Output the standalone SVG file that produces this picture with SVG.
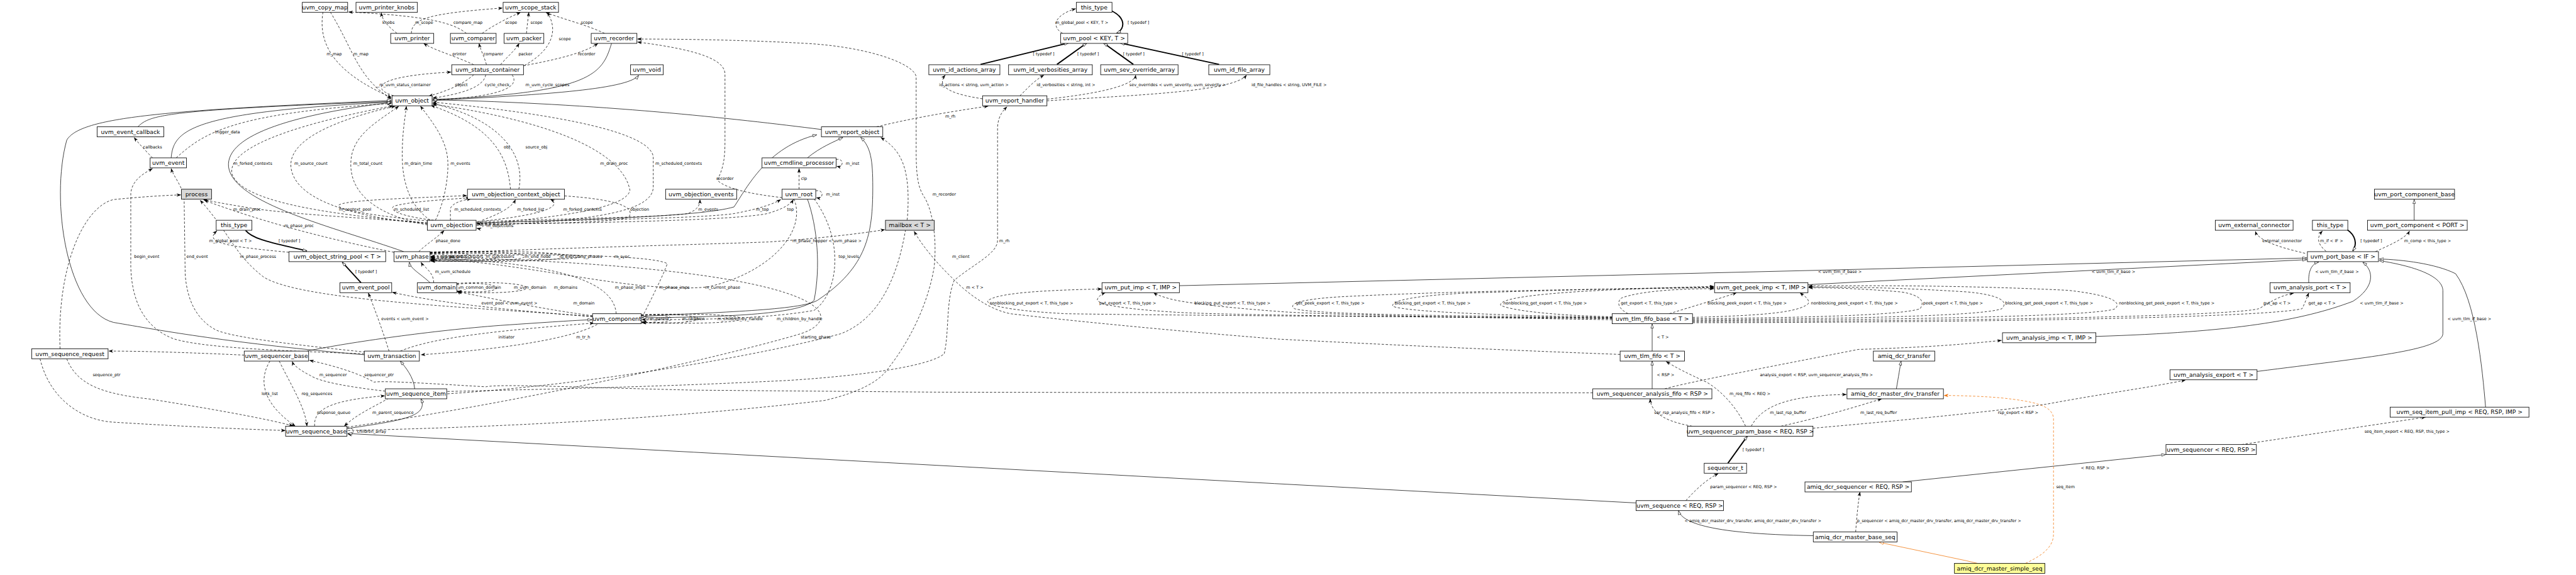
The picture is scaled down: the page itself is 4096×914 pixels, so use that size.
<svg xmlns="http://www.w3.org/2000/svg" width="4096" height="914" viewBox="0 0 4096 914">
<style>
.n rect{fill:#fff;stroke:#000;stroke-width:1.6}
.n text{font-family:"DejaVu Sans",Verdana,sans-serif;font-size:17.5px;text-anchor:middle;fill:#000}
.l text{font-family:"DejaVu Sans",Verdana,sans-serif;font-size:12.3px;fill:#000}
.e path{fill:none;stroke:#000;stroke-width:1.4}
.e .u{stroke-dasharray:7 5;marker-end:url(#av)}
.e .i{marker-end:url(#at)}
.e .t{stroke-width:3.6;marker-end:url(#at)}
.e .ou{stroke:#f07000;stroke-dasharray:7 5;marker-end:url(#aov)}
.e .oi{stroke:#f07000;marker-end:url(#aot)}
</style>
<defs>
<marker id="av" viewBox="0 0 14 10" refX="13" refY="5" markerWidth="14" markerHeight="10" orient="auto" markerUnits="userSpaceOnUse"><path d="M0,0 L14,5 L0,10 L4,5 z" fill="#000"/></marker>
<marker id="at" viewBox="0 0 14 10" refX="13" refY="5" markerWidth="14" markerHeight="10" orient="auto" markerUnits="userSpaceOnUse"><path d="M1,1 L13,5 L1,9 z" fill="#fff" stroke="#000" stroke-width="1.2"/></marker>
<marker id="aov" viewBox="0 0 14 10" refX="13" refY="5" markerWidth="14" markerHeight="10" orient="auto" markerUnits="userSpaceOnUse"><path d="M0,0 L14,5 L0,10 L4,5 z" fill="#f07000"/></marker>
<marker id="aot" viewBox="0 0 14 10" refX="13" refY="5" markerWidth="14" markerHeight="10" orient="auto" markerUnits="userSpaceOnUse"><path d="M1,1 L13,5 L1,9 z" fill="#fff" stroke="#f07000" stroke-width="1.2"/></marker>
</defs>
<rect width="4096" height="914" fill="#fff"/>
<g transform="scale(0.5305)">
<g id="edges" class="e">
<path class="u" d="M1190,100 C1165,80 1145,62 1143,38"/>
<path class="u" d="M1233,100 C1233,55 1290,40 1506,24"/>
<path class="u" d="M1398,100 C1360,70 1290,48 1045,36"/>
<path class="u" d="M1445,100 C1480,75 1520,55 1560,37"/>
<path class="u" d="M1578,100 C1580,75 1583,55 1585,37"/>
<path class="u" d="M1812,100 C1760,75 1680,55 1636,37"/>
<path class="u" d="M1572,196 C1655,150 1675,90 1640,37"/>
<path class="u" d="M1420,194 C1370,170 1300,150 1270,130"/>
<path class="u" d="M1458,194 C1452,170 1440,150 1436,130"/>
<path class="u" d="M1500,194 C1520,170 1545,150 1556,130"/>
<path class="u" d="M1569,197 C1660,180 1750,160 1792,130"/>
<path class="u" d="M968,36 C955,120 985,210 1173,292"/>
<path class="u" d="M990,36 C1060,150 1070,230 1173,297"/>
<path class="u" d="M1180,287 C1110,265 1125,228 1352,216"/>
<path class="u" d="M1420,224 C1390,250 1350,270 1285,288"/>
<path class="u" d="M1456,224 C1450,262 1380,282 1297,294"/>
<path class="u" d="M1535,224 C1565,268 1470,292 1297,300"/>
<path class="i" d="M1296,301 C1600,285 1880,270 1914,226"/>
<path class="i" d="M1833,130 C1805,220 1780,278 1297,298"/>
<path class="i" d="M413,380 C450,345 480,330 1173,304"/>
<path class="i" d="M513,473 C520,390 570,335 1173,306"/>
<path class="u" d="M528,473 C610,400 690,340 1173,310"/>
<path class="u" d="M457,473 C440,455 420,435 402,412"/>
<path class="i" d="M1092,1063 C700,1030 480,990 340,966 C200,930 150,600 200,420 C240,350 500,330 1173,301"/>
<path class="i" d="M2462,388 C2200,355 1800,310 1297,299"/>
<path class="i" d="M1210,754 C1000,680 700,610 685,500 C675,400 900,340 1173,307"/>
<path class="u" d="M1281,668 C950,640 720,600 695,520 C680,430 950,360 1178,317"/>
<path class="u" d="M1281,671 C1000,645 880,580 872,500 C865,420 1000,360 1185,318"/>
<path class="u" d="M1282,674 C1100,640 1045,560 1052,480 C1058,400 1140,360 1195,318"/>
<path class="u" d="M1290,660 C1230,620 1208,550 1206,480 C1204,400 1215,350 1218,318"/>
<path class="u" d="M1305,660 C1335,600 1345,520 1342,480 C1338,420 1300,370 1260,318"/>
<path class="u" d="M1428,672 C1700,650 1880,620 1888,570 C1870,470 1700,370 1297,312"/>
<path class="u" d="M1428,676 C1800,662 1958,630 1958,560 L1958,470 C1950,400 1700,345 1297,306"/>
<path class="u" d="M1530,567 C1522,470 1480,380 1292,316"/>
<path class="u" d="M1555,567 C1575,470 1510,360 1297,310"/>
<path class="u" d="M1281,668 C1121,655 898,644 760,625 C700,615 640,605 610,598"/>
<path class="u" d="M1283,662 C1150,650 1010,630 1015,615 C1030,600 1200,595 1399,586"/>
<path class="u" d="M1300,660 C1200,648 1165,630 1180,618 C1220,605 1340,597 1408,593"/>
<path class="u" d="M1350,660 L1350,625 C1355,610 1380,600 1412,596"/>
<path class="u" d="M1445,660 C1500,640 1535,620 1545,598"/>
<path class="u" d="M1434,664 C1620,645 1690,620 1650,597"/>
<path class="u" d="M1692,587 C1850,598 1905,620 1885,650 C1850,668 1600,670 1429,671"/>
<path class="u" d="M1255,754 C1280,730 1310,712 1331,691"/>
<path class="u" d="M1427,668 C1455,660 1455,690 1429,684"/>
<path class="u" d="M1181,756 C1000,720 800,670 612,600"/>
<path class="u" d="M1776,948 C1400,920 900,900 790,830 C700,760 690,700 600,600"/>
<path class="u" d="M1092,1060 C800,1050 600,1040 520,1015 C430,980 395,900 392,800 L392,580 C395,540 430,520 457,505"/>
<path class="u" d="M1095,1055 C850,1030 700,1010 650,990 C590,960 560,900 555,820 L552,600 C550,560 520,530 513,505"/>
<path class="t" d="M736,690 C760,720 830,730 920,752"/>
<path class="u" d="M866,756 C700,740 605,730 650,692"/>
<path class="t" d="M1082,847 L1026,786"/>
<path class="i" d="M1289,847 C1260,820 1230,805 1227,786"/>
<path class="u" d="M1300,847 C1300,815 1270,800 1262,786"/>
<path class="u" d="M1369,853 C1378,846 1378,878 1371,871"/>
<path class="u" d="M1369,851 C1520,840 1535,884 1371,873"/>
<path class="u" d="M1369,849 C1640,836 1655,888 1371,875"/>
<path class="u" d="M1776,946 C1650,930 1500,900 1371,874"/>
<path class="u" d="M1776,949 C1600,935 1350,915 1176,876"/>
<path class="u" d="M1166,1052 C1150,1000 1125,930 1104,878"/>
<path class="u" d="M1847,940 C1840,850 1700,790 1291,772"/>
<path class="u" d="M1930,940 C1960,880 1990,820 2000,790 C1950,760 1500,760 1291,768"/>
<path class="u" d="M2380,596 C2420,700 2300,820 2120,860 C1900,880 1600,790 1291,775"/>
<path class="u" d="M1289,760 C1320,752 1320,784 1291,778"/>
<path class="u" d="M1289,759 C1345,750 1345,786 1291,779"/>
<path class="u" d="M1289,758 C1450,748 1455,788 1291,780"/>
<path class="u" d="M1289,757 C1560,746 1565,790 1291,781"/>
<path class="u" d="M1289,756 C1665,744 1670,792 1291,782"/>
<path class="u" d="M1289,755 C1830,742 1835,794 1291,782"/>
<path class="u" d="M1289,762 C1890,748 1895,790 1291,776"/>
<path class="u" d="M1289,760 C1600,745 2090,733 2303,725 C2450,715 2580,700 2652,688"/>
<path class="i" d="M920,1052 C1050,1025 1300,990 1500,975 C1650,965 1720,960 1774,958"/>
<path class="u" d="M1790,972 C1740,1000 1600,1040 1262,1063"/>
<path class="u" d="M1200,1052 C1300,1010 1500,990 1780,968"/>
<path class="u" d="M1155,1172 C1050,1160 960,1145 930,1125 C900,1110 880,1095 876,1083"/>
<path class="u" d="M4774,1177 L3830,1177 L2805,1175 L2080,1169 C1700,1160 1500,1150 1456,1159 C1300,1150 1150,1140 1121,1145 C1080,1120 1000,1095 928,1080"/>
<path class="u" d="M809,1082 C780,1130 775,1200 885,1277"/>
<path class="u" d="M837,1082 C870,1150 915,1220 920,1277"/>
<path class="u" d="M943,1277 C940,1230 980,1200 1153,1186"/>
<path class="u" d="M1165,1193 C1120,1220 1070,1240 1032,1277"/>
<path class="i" d="M1042,1284 C1200,1260 1285,1250 1262,1195"/>
<path class="u" d="M1040,1283 C1065,1278 1065,1305 1042,1300"/>
<path class="i" d="M1243,1165 C1240,1130 1215,1100 1200,1082"/>
<path class="i" d="M4904,1507 L3820,1449 L2080,1355 L1043,1299"/>
<path class="u" d="M1341,1173 C1700,1165 2000,1158 2360,1140 C2600,1125 2790,1095 2830,1060 C2845,1000 2835,900 2860,840 C2920,790 2990,760 2990,720 L2990,380 C2992,345 3010,328 3018,320"/>
<path class="u" d="M1043,1290 C1500,1280 2000,1255 2471,1200 C2580,1175 2640,1140 2665,1100 C2720,1030 2780,920 2800,800 C2810,700 2790,620 2770,590 C2750,560 2746,520 2746,450 L2746,230 C2740,190 2600,140 2415,130 C2200,118 2000,117 1911,117"/>
<path class="u" d="M2344,592 C2280,585 2180,570 2150,540 C2170,500 2173,470 2173,420 L2173,220 C2170,180 2100,150 1911,126"/>
<path class="u" d="M1341,1180 C1800,1150 2300,1060 2520,1000 C2650,950 2700,800 2720,650 C2730,500 2700,450 2640,412"/>
<path class="u" d="M1040,1280 C1600,1200 2200,1060 2400,1000 C2550,950 2500,800 1291,770"/>
<path class="u" d="M1429,668 C1700,660 2100,655 2200,640 C2280,625 2320,610 2340,598"/>
<path class="u" d="M1429,672 C1800,668 2200,660 2300,640 C2350,625 2370,612 2378,598"/>
<path class="u" d="M1429,664 C1700,655 2000,650 2060,640 C2090,630 2098,615 2098,598"/>
<path class="u" d="M2440,596 C2480,650 2505,720 2502,790 C2500,860 2470,910 2440,930 C2300,955 2100,958 1924,958"/>
<path class="u" d="M1922,946 C1950,940 1950,970 1924,964"/>
<path class="u" d="M1922,945 C2040,936 2045,974 1924,965"/>
<path class="u" d="M1922,944 C2145,934 2150,976 1924,966"/>
<path class="u" d="M1922,943 C2320,932 2325,978 1924,967"/>
<path class="i" d="M2420,596 C2450,680 2460,800 2440,900 C2400,940 2200,950 1924,952"/>
<path class="i" d="M1924,948 C2150,935 2400,930 2450,900 C2600,800 2616,700 2616,560 C2616,480 2610,440 2580,412"/>
<path class="i" d="M1429,668 C1700,660 2100,650 2200,620 C2240,560 2300,440 2448,404"/>
<path class="i" d="M2420,473 C2460,440 2500,425 2526,412"/>
<path class="u" d="M2395,567 L2395,505"/>
<path class="u" d="M2506,478 C2530,472 2530,504 2508,498"/>
<path class="u" d="M2445,572 C2470,566 2470,598 2447,592"/>
<path class="u" d="M2627,380 C2750,350 2880,330 2962,318"/>
<path class="t" d="M3333,33 C3375,55 3372,85 3347,100"/>
<path class="u" d="M3185,100 C3150,80 3160,45 3224,26"/>
<path class="t" d="M2939,193 L3202,129"/>
<path class="t" d="M3168,193 L3257,129"/>
<path class="t" d="M3397,193 L3308,129"/>
<path class="t" d="M3654,193 L3358,129"/>
<path class="u" d="M2945,296 C2870,285 2800,265 2833,225"/>
<path class="u" d="M3057,287 C3075,270 3095,245 3129,225"/>
<path class="u" d="M3138,297 C3300,280 3400,255 3404,225"/>
<path class="u" d="M3138,302 C3400,285 3700,275 3736,225"/>
<path class="u" d="M4856,1062 C4400,1045 4000,1025 3830,1016 C3500,990 3200,960 3028,940 C2960,925 2900,880 2850,829 C2800,780 2760,730 2740,693"/>
<path class="u" d="M4832,952 C4300,950 3500,945 3196,940 C3000,930 2950,910 2962,900 C2990,880 3100,870 3302,866"/>
<path class="u" d="M4832,955 C4300,950 3700,945 3531,936 C3350,925 3280,910 3290,895 C3295,885 3305,880 3313,877"/>
<path class="u" d="M4832,958 C4300,950 3900,940 3830,933 C3650,920 3540,905 3505,895 C3480,888 3465,882 3458,877"/>
<path class="u" d="M4832,953 C4400,945 3950,945 3880,925 C3860,912 3890,895 4043,888 C4400,870 4900,865 5137,862"/>
<path class="u" d="M4832,951 C4500,945 4220,935 4175,918 C4165,900 4250,885 4400,878 C4700,868 5000,862 5137,860"/>
<path class="u" d="M4832,949 C4650,945 4530,930 4498,915 C4490,895 4600,880 4800,870 C4950,863 5080,860 5137,858"/>
<path class="u" d="M4880,940 C4850,925 4845,905 4860,893 C4920,870 5050,865 5137,865"/>
<path class="u" d="M5003,940 C5100,910 5170,890 5205,877"/>
<path class="u" d="M5073,951 C5300,945 5390,935 5420,910 C5425,895 5405,885 5395,877"/>
<path class="u" d="M5073,955 C5400,952 5700,945 5755,925 C5770,905 5760,885 5700,875 C5600,866 5500,862 5421,862"/>
<path class="u" d="M5073,958 C5600,955 5950,945 6000,925 C6020,905 6000,885 5900,875 C5700,862 5550,860 5421,860"/>
<path class="u" d="M5073,961 C5800,958 6300,945 6340,925 C6360,905 6330,885 6200,870 C5900,855 5600,855 5421,857"/>
<path class="u" d="M5073,964 C6000,962 6700,945 6770,925 C6800,910 6820,890 6875,878"/>
<path class="u" d="M5073,967 C6000,966 6800,950 6900,925 C6910,905 6915,890 6920,878"/>
<path class="i" d="M3535,856 L5570,807 L6914,773"/>
<path class="i" d="M5419,853 L5570,845 L6914,778"/>
<path class="u" d="M6909,759 C6850,745 6770,725 6760,693"/>
<path class="u" d="M6972,753 C6945,730 6943,712 6961,692"/>
<path class="t" d="M7035,688 C7060,705 7066,730 7052,752"/>
<path class="u" d="M7120,754 C7160,735 7210,715 7222,692"/>
<path class="i" d="M7236,660 L7236,598"/>
<path class="i" d="M6920,847 C6918,810 6930,790 6950,785"/>
<path class="i" d="M6282,1008 C6700,995 6900,960 7052,903 C7120,860 7115,810 7082,786"/>
<path class="i" d="M6765,1113 C7100,1070 7320,1050 7322,1000 L7322,870 C7320,830 7250,800 7132,781"/>
<path class="i" d="M7450,1220 C7440,1100 7420,900 7360,820 C7300,790 7200,778 7132,776"/>
<path class="i" d="M4952,1052 L4952,971"/>
<path class="i" d="M4952,1165 L4952,1082"/>
<path class="u" d="M5232,1277 C5200,1210 5150,1165 5115,1145 C5060,1120 5020,1100 4994,1083"/>
<path class="u" d="M5108,1282 C5000,1270 4948,1240 4946,1195"/>
<path class="u" d="M5249,1277 C5280,1220 5350,1185 5534,1182"/>
<path class="u" d="M5338,1277 C5460,1250 5560,1220 5640,1195"/>
<path class="u" d="M4990,1165 C5060,1145 5300,1100 5570,1047 C5800,1040 5900,1030 5999,1020"/>
<path class="u" d="M5434,1283 C5700,1260 6000,1230 6134,1211 C6300,1180 6450,1160 6550,1139"/>
<path class="t" d="M5179,1388 L5237,1307"/>
<path class="u" d="M5053,1500 C5080,1470 5110,1440 5150,1419"/>
<path class="i" d="M5435,1605 C5100,1600 5040,1560 5031,1530"/>
<path class="u" d="M5562,1594 C5565,1550 5570,1500 5575,1474"/>
<path class="i" d="M5703,1444 L6491,1362"/>
<path class="u" d="M6719,1332 L7270,1250"/>
<path class="i" d="M5684,1165 C5690,1130 5695,1100 5698,1082"/>
<path class="ou" d="M6071,1688 C6120,1665 6155,1640 6155,1600 L6155,1252 C6150,1215 6100,1203 5996,1192 C5950,1188 5880,1185 5827,1185"/>
<path class="oi" d="M5927,1688 L5893,1680 L5633,1625"/>
<path class="u" d="M732,1064 C600,1058 450,1052 326,1052"/>
<path class="u" d="M200,1075 C230,1150 300,1180 452,1196 C600,1220 780,1250 878,1276"/>
<path class="u" d="M120,1075 C150,1200 250,1260 340,1265 C500,1275 700,1285 855,1290"/>
<path class="u" d="M180,1045 C170,800 250,620 340,598 C420,590 500,585 542,584"/>
</g>
<g id="labels" class="l">
<text x="1146" y="72">knobs</text>
<text x="1244" y="72">m_scope</text>
<text x="1359" y="72">compare_map</text>
<text x="1514" y="72">scope</text>
<text x="1590" y="72">scope</text>
<text x="1741" y="72">scope</text>
<text x="1675" y="120">scope</text>
<text x="979" y="166">m_map</text>
<text x="1059" y="166">m_map</text>
<text x="1356" y="166">printer</text>
<text x="1449" y="166">comparer</text>
<text x="1554" y="166">packer</text>
<text x="1732" y="166">recorder</text>
<text x="1125" y="259">__m_uvm_status_container</text>
<text x="1364" y="259">object</text>
<text x="1453" y="259">cycle_check</text>
<text x="1575" y="259">m_uvm_cycle_scopes</text>
<text x="644" y="400">trigger_data</text>
<text x="429" y="445">callbacks</text>
<text x="1510" y="445">obj</text>
<text x="1575" y="445">source_obj</text>
<text x="700" y="493">m_forked_contexts</text>
<text x="882" y="493">m_source_count</text>
<text x="1059" y="493">m_total_count</text>
<text x="1212" y="493">m_drain_time</text>
<text x="1350" y="493">m_events</text>
<text x="1799" y="493">m_drain_proc</text>
<text x="1964" y="493">m_scheduled_contexts</text>
<text x="3163" y="72">m_global_pool &lt; KEY, T &gt;</text>
<text x="3380" y="72">[ typedef ]</text>
<text x="3096" y="166">[ typedef ]</text>
<text x="3229" y="166">[ typedef ]</text>
<text x="3366" y="166">[ typedef ]</text>
<text x="3543" y="166">[ typedef ]</text>
<text x="2815" y="259">id_actions &lt; string, uvm_action &gt;</text>
<text x="3107" y="259">id_verbosities &lt; string, int &gt;</text>
<text x="3385" y="259">sev_overrides &lt; uvm_severity, uvm_severity &gt;</text>
<text x="3751" y="259">id_file_handles &lt; string, UVM_FILE &gt;</text>
<text x="2833" y="352">m_rh</text>
<text x="2535" y="493">m_inst</text>
<text x="2401" y="539">clp</text>
<text x="2147" y="539">recorder</text>
<text x="2795" y="586">m_recorder</text>
<text x="2476" y="586">m_inst</text>
<text x="699" y="632">m_drain_proc</text>
<text x="1016" y="632">m_context_pool</text>
<text x="1181" y="632">m_scheduled_list</text>
<text x="1362" y="632">m_scheduled_contexts</text>
<text x="1550" y="632">m_forked_list</text>
<text x="1688" y="632">m_forked_contexts</text>
<text x="1889" y="632">objection</text>
<text x="2093" y="632">m_events</text>
<text x="2266" y="632">m_top</text>
<text x="2359" y="632">top</text>
<text x="852" y="680">m_phase_proc</text>
<text x="1458" y="680">m_objections</text>
<text x="627" y="726">m_global_pool &lt; T &gt;</text>
<text x="835" y="726">[ typedef ]</text>
<text x="1306" y="726">phase_done</text>
<text x="2375" y="726">m_phase_hopper &lt; uvm_phase &gt;</text>
<text x="2995" y="726">m_rh</text>
<text x="402" y="773">begin_event</text>
<text x="559" y="773">end_event</text>
<text x="719" y="773">m_phase_process</text>
<text x="1319" y="773">m_imp</text>
<text x="1329" y="773">m_parent</text>
<text x="1349" y="773">m_predecessors</text>
<text x="1456" y="773">m_successors</text>
<text x="1573" y="773">m_end_node</text>
<text x="1677" y="773">m_executing_phases</text>
<text x="1841" y="773">m_sync</text>
<text x="2513" y="773">top_levels</text>
<text x="2854" y="773">m_client</text>
<text x="1065" y="819">[ typedef ]</text>
<text x="1304" y="819">m_uvm_schedule</text>
<text x="1378" y="866">m_common_domain</text>
<text x="1540" y="866">m_uvm_domain</text>
<text x="1660" y="866">m_domains</text>
<text x="1843" y="866">m_phase_imps</text>
<text x="1976" y="866">m_phase_imps</text>
<text x="2113" y="866">m_current_phase</text>
<text x="2896" y="866">m &lt; T &gt;</text>
<text x="1443" y="912">event_pool &lt; uvm_event &gt;</text>
<text x="1718" y="912">m_domain</text>
<text x="2966" y="912">nonblocking_put_export &lt; T, this_type &gt;</text>
<text x="3295" y="912">put_export &lt; T, this_type &gt;</text>
<text x="3580" y="912">blocking_put_export &lt; T, this_type &gt;</text>
<text x="3884" y="912">get_peek_export &lt; T, this_type &gt;</text>
<text x="4180" y="912">blocking_get_export &lt; T, this_type &gt;</text>
<text x="4506" y="912">nonblocking_get_export &lt; T, this_type &gt;</text>
<text x="4858" y="912">get_export &lt; T, this_type &gt;</text>
<text x="5118" y="912">blocking_peek_export &lt; T, this_type &gt;</text>
<text x="5428" y="912">nonblocking_peek_export &lt; T, this_type &gt;</text>
<text x="5764" y="912">peek_export &lt; T, this_type &gt;</text>
<text x="6010" y="912">blocking_get_peek_export &lt; T, this_type &gt;</text>
<text x="6351" y="912">nonblocking_get_peek_export &lt; T, this_type &gt;</text>
<text x="6784" y="912">put_ap &lt; T &gt;</text>
<text x="6919" y="912">get_ap &lt; T &gt;</text>
<text x="7073" y="912">&lt; uvm_tlm_if_base &gt;</text>
<text x="5449" y="819">&lt; uvm_tlm_if_base &gt;</text>
<text x="6269" y="819">&lt; uvm_tlm_if_base &gt;</text>
<text x="6939" y="819">&lt; uvm_tlm_if_base &gt;</text>
<text x="6781" y="725">external_connector</text>
<text x="6954" y="725">m_if &lt; IF &gt;</text>
<text x="7075" y="725">[ typedef ]</text>
<text x="7206" y="725">m_comp &lt; this_type &gt;</text>
<text x="1143" y="959">events &lt; uvm_event &gt;</text>
<text x="1947" y="959">m_parent</text>
<text x="2045" y="959">m_children</text>
<text x="2150" y="959">m_children_by_handle</text>
<text x="2328" y="959">m_children_by_handle</text>
<text x="7336" y="959">&lt; uvm_tlm_if_base &gt;</text>
<text x="4966" y="1014">&lt; T &gt;</text>
<text x="1494" y="1015">initiator</text>
<text x="1727" y="1015">m_tr_h</text>
<text x="2400" y="1015">starting_phase</text>
<text x="278" y="1128">sequence_ptr</text>
<text x="957" y="1128">m_sequencer</text>
<text x="1092" y="1128">sequencer_ptr</text>
<text x="4966" y="1127">&lt; RSP &gt;</text>
<text x="5275" y="1127">analysis_export &lt; RSP, uvm_sequencer_analysis_fifo &gt;</text>
<text x="784" y="1183">lock_list</text>
<text x="904" y="1183">reg_sequences</text>
<text x="5184" y="1183">m_req_fifo &lt; REQ &gt;</text>
<text x="950" y="1240">response_queue</text>
<text x="1116" y="1240">m_parent_sequence</text>
<text x="4958" y="1240">sqr_rsp_analysis_fifo &lt; RSP &gt;</text>
<text x="5305" y="1240">m_last_rsp_buffer</text>
<text x="5576" y="1240">m_last_req_buffer</text>
<text x="5988" y="1240">rsp_export &lt; RSP &gt;</text>
<text x="1070" y="1296">children_array</text>
<text x="7087" y="1296">seq_item_export &lt; REQ, RSP, this_type &gt;</text>
<text x="5223" y="1351">[ typedef ]</text>
<text x="6237" y="1407">&lt; REQ, RSP &gt;</text>
<text x="5126" y="1463">param_sequencer &lt; REQ, RSP &gt;</text>
<text x="6163" y="1463">seq_item</text>
<text x="5049" y="1565">&lt; amiq_dcr_master_drv_transfer, amiq_dcr_master_drv_transfer &gt;</text>
<text x="5566" y="1565">p_sequencer &lt; amiq_dcr_master_drv_transfer, amiq_dcr_master_drv_transfer &gt;</text>
</g>
<g id="n_copy_map" class="n"><rect x="906" y="7" width="136" height="30"/><text x="974" y="28">uvm_copy_map</text></g>
<g id="n_printer_knobs" class="n"><rect x="1067" y="7" width="184" height="30"/><text x="1159" y="28">uvm_printer_knobs</text></g>
<g id="n_scope_stack" class="n"><rect x="1508" y="7" width="166" height="30"/><text x="1591" y="28">uvm_scope_stack</text></g>
<g id="n_this_type_pool" class="n"><rect x="3226" y="7" width="107" height="30"/><text x="3279.5" y="28">this_type</text></g>
<g id="n_printer" class="n"><rect x="1171" y="100" width="129" height="30"/><text x="1235.5" y="121">uvm_printer</text></g>
<g id="n_comparer" class="n"><rect x="1350" y="100" width="137" height="30"/><text x="1418.5" y="121">uvm_comparer</text></g>
<g id="n_packer" class="n"><rect x="1511" y="100" width="119" height="30"/><text x="1570.5" y="121">uvm_packer</text></g>
<g id="n_recorder" class="n"><rect x="1772" y="100" width="137" height="30"/><text x="1840.5" y="121">uvm_recorder</text></g>
<g id="n_pool" class="n"><rect x="3179" y="100" width="201" height="30"/><text x="3279.5" y="121">uvm_pool &lt; KEY, T &gt;</text></g>
<g id="n_status_container" class="n"><rect x="1354" y="194" width="215" height="30"/><text x="1461.5" y="215">uvm_status_container</text></g>
<g id="n_void" class="n"><rect x="1890" y="194" width="98" height="30"/><text x="1939" y="215">uvm_void</text></g>
<g id="n_id_actions_array" class="n"><rect x="2784" y="194" width="213" height="30"/><text x="2890.5" y="215">uvm_id_actions_array</text></g>
<g id="n_id_verbosities_array" class="n"><rect x="3023" y="194" width="251" height="30"/><text x="3148.5" y="215">uvm_id_verbosities_array</text></g>
<g id="n_sev_override_array" class="n"><rect x="3299" y="194" width="232" height="30"/><text x="3415" y="215">uvm_sev_override_array</text></g>
<g id="n_id_file_array" class="n"><rect x="3623" y="194" width="183" height="30"/><text x="3714.5" y="215">uvm_id_file_array</text></g>
<g id="n_object" class="n"><rect x="1175" y="287" width="120" height="30"/><text x="1235" y="308">uvm_object</text></g>
<g id="n_report_handler" class="n"><rect x="2945" y="287" width="193" height="30"/><text x="3041.5" y="308">uvm_report_handler</text></g>
<g id="n_event_callback" class="n"><rect x="291" y="380" width="200" height="30"/><text x="391" y="401">uvm_event_callback</text></g>
<g id="n_report_object" class="n"><rect x="2462" y="380" width="184" height="30"/><text x="2554" y="401">uvm_report_object</text></g>
<g id="n_event" class="n"><rect x="450" y="473" width="109" height="30"/><text x="504.5" y="494">uvm_event</text></g>
<g id="n_cmdline_processor" class="n"><rect x="2284" y="473" width="222" height="30"/><text x="2395" y="494">uvm_cmdline_processor</text></g>
<g id="n_process" class="n"><rect x="544" y="567" width="90" height="30" style="fill:#d9d9d9"/><text x="589" y="588">process</text></g>
<g id="n_objection_context_object" class="n"><rect x="1401" y="567" width="291" height="30"/><text x="1546.5" y="588">uvm_objection_context_object</text></g>
<g id="n_objection_events" class="n"><rect x="1995" y="567" width="213" height="30"/><text x="2101.5" y="588">uvm_objection_events</text></g>
<g id="n_root" class="n"><rect x="2344" y="567" width="101" height="30"/><text x="2394.5" y="588">uvm_root</text></g>
<g id="n_port_component_base" class="n"><rect x="7117" y="567" width="240" height="30"/><text x="7237" y="588">uvm_port_component_base</text></g>
<g id="n_this_type_left" class="n"><rect x="648" y="660" width="107" height="30"/><text x="701.5" y="681">this_type</text></g>
<g id="n_objection" class="n"><rect x="1281" y="660" width="146" height="30"/><text x="1354" y="681">uvm_objection</text></g>
<g id="n_mailbox" class="n"><rect x="2654" y="660" width="146" height="30" style="fill:#d9d9d9"/><text x="2727" y="681">mailbox &lt; T &gt;</text></g>
<g id="n_external_connector" class="n"><rect x="6640" y="660" width="233" height="30"/><text x="6756.5" y="681">uvm_external_connector</text></g>
<g id="n_this_type_port" class="n"><rect x="6931" y="660" width="106" height="30"/><text x="6984" y="681">this_type</text></g>
<g id="n_port_component" class="n"><rect x="7096" y="660" width="299" height="30"/><text x="7245.5" y="681">uvm_port_component &lt; PORT &gt;</text></g>
<g id="n_object_string_pool" class="n"><rect x="866" y="754" width="290" height="30"/><text x="1011" y="775">uvm_object_string_pool &lt; T &gt;</text></g>
<g id="n_phase" class="n"><rect x="1181" y="754" width="108" height="30"/><text x="1235" y="775">uvm_phase</text></g>
<g id="n_port_base" class="n"><rect x="6916" y="754" width="213" height="30"/><text x="7022.5" y="775">uvm_port_base &lt; IF &gt;</text></g>
<g id="n_event_pool" class="n"><rect x="1019" y="847" width="155" height="30"/><text x="1096.5" y="868">uvm_event_pool</text></g>
<g id="n_domain" class="n"><rect x="1251" y="847" width="118" height="30"/><text x="1310" y="868">uvm_domain</text></g>
<g id="n_put_imp" class="n"><rect x="3303" y="847" width="232" height="30"/><text x="3419" y="868">uvm_put_imp &lt; T, IMP &gt;</text></g>
<g id="n_get_peek_imp" class="n"><rect x="5139" y="847" width="280" height="30"/><text x="5279" y="868">uvm_get_peek_imp &lt; T, IMP &gt;</text></g>
<g id="n_analysis_port" class="n"><rect x="6804" y="847" width="240" height="30"/><text x="6924" y="868">uvm_analysis_port &lt; T &gt;</text></g>
<g id="n_component" class="n"><rect x="1776" y="940" width="146" height="30"/><text x="1849" y="961">uvm_component</text></g>
<g id="n_tlm_fifo_base" class="n"><rect x="4832" y="940" width="241" height="30"/><text x="4952.5" y="961">uvm_tlm_fifo_base &lt; T &gt;</text></g>
<g id="n_analysis_imp" class="n"><rect x="6002" y="997" width="280" height="30"/><text x="6142" y="1018">uvm_analysis_imp &lt; T, IMP &gt;</text></g>
<g id="n_sequence_request" class="n"><rect x="95" y="1045" width="229" height="30"/><text x="209.5" y="1066">uvm_sequence_request</text></g>
<g id="n_sequencer_base" class="n"><rect x="732" y="1052" width="193" height="30"/><text x="828.5" y="1073">uvm_sequencer_base</text></g>
<g id="n_transaction" class="n"><rect x="1092" y="1052" width="165" height="30"/><text x="1174.5" y="1073">uvm_transaction</text></g>
<g id="n_tlm_fifo" class="n"><rect x="4856" y="1052" width="193" height="30"/><text x="4952.5" y="1073">uvm_tlm_fifo &lt; T &gt;</text></g>
<g id="n_amiq_dcr_transfer" class="n"><rect x="5615" y="1052" width="184" height="30"/><text x="5707" y="1073">amiq_dcr_transfer</text></g>
<g id="n_analysis_export" class="n"><rect x="6504" y="1108" width="261" height="30"/><text x="6634.5" y="1129">uvm_analysis_export &lt; T &gt;</text></g>
<g id="n_sequence_item" class="n"><rect x="1155" y="1165" width="184" height="30"/><text x="1247" y="1186">uvm_sequence_item</text></g>
<g id="n_sequencer_analysis_fifo" class="n"><rect x="4774" y="1165" width="357" height="30"/><text x="4952.5" y="1186">uvm_sequencer_analysis_fifo &lt; RSP &gt;</text></g>
<g id="n_drv_transfer" class="n"><rect x="5536" y="1165" width="289" height="30"/><text x="5680.5" y="1186">amiq_dcr_master_drv_transfer</text></g>
<g id="n_seq_item_pull_imp" class="n"><rect x="7164" y="1220" width="416" height="30"/><text x="7372" y="1241">uvm_seq_item_pull_imp &lt; REQ, RSP, IMP &gt;</text></g>
<g id="n_sequence_base" class="n"><rect x="856" y="1277" width="184" height="30"/><text x="948" y="1298">uvm_sequence_base</text></g>
<g id="n_sequencer_param_base" class="n"><rect x="5058" y="1277" width="376" height="30"/><text x="5246" y="1298">uvm_sequencer_param_base &lt; REQ, RSP &gt;</text></g>
<g id="n_sequencer" class="n"><rect x="6492" y="1332" width="271" height="30"/><text x="6627.5" y="1353">uvm_sequencer &lt; REQ, RSP &gt;</text></g>
<g id="n_sequencer_t" class="n"><rect x="5108" y="1388" width="127" height="30"/><text x="5171.5" y="1409">sequencer_t</text></g>
<g id="n_amiq_dcr_sequencer" class="n"><rect x="5410" y="1444" width="319" height="30"/><text x="5569.5" y="1465">amiq_dcr_sequencer &lt; REQ, RSP &gt;</text></g>
<g id="n_sequence" class="n"><rect x="4904" y="1500" width="262" height="30"/><text x="5035" y="1521">uvm_sequence &lt; REQ, RSP &gt;</text></g>
<g id="n_master_base_seq" class="n"><rect x="5435" y="1594" width="251" height="30"/><text x="5560.5" y="1615">amiq_dcr_master_base_seq</text></g>
<g id="n_master_simple_seq" class="n"><rect x="5858" y="1688" width="271" height="30" style="fill:#ffff99"/><text x="5993.5" y="1709">amiq_dcr_master_simple_seq</text></g>
</g>
</svg>
